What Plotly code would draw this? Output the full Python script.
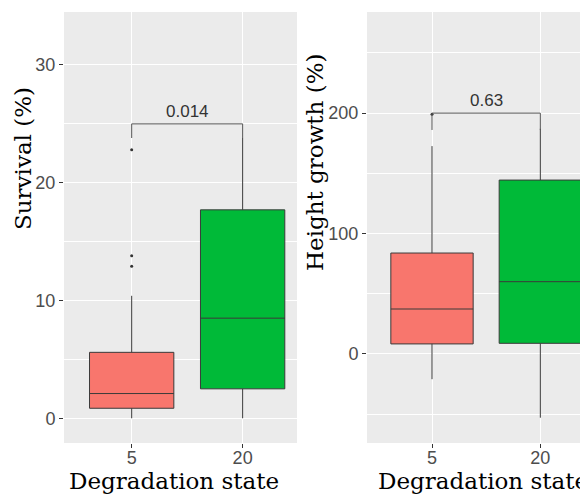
import plotly.graph_objects as go

# ---------------- data ----------------
categories = ["5", "20"]

# Survival (%)
surv_q1 = [0.85, 2.5]
surv_median = [2.1, 8.5]
surv_q3 = [5.6, 17.7]
surv_low = [0.0, 0.0]
surv_high = [10.4, 23.8]
surv_outlier_x = ["5", "5", "5"]
surv_outlier_y = [12.9, 13.8, 22.8]
surv_bracket_y = 25.0
surv_bracket_tip = 23.8
surv_p = "0.014"

# Height growth (%)
hg_q1 = [8.3, 8.8]
hg_median = [37.3, 60.0]
hg_q3 = [83.8, 144.4]
hg_low = [-21.0, -53.0]
hg_high = [172.6, 187.0]
hg_outlier_x = ["5"]
hg_outlier_y = [199.0]
hg_bracket_y = 200.0
hg_bracket_tip = 186.0
hg_p = "0.63"

colors = ["#F8766D", "#00BA38"]

# ---------------- figure ----------------
OFF = 8  # page body margin
W, H = 588 - OFF, 497 - OFF


def px(x):
    return (x - OFF) / W


def py(y):
    return (H - (y - OFF)) / H


fig = go.Figure()


def add_panel(xa, ya, q1, med, q3, lo, hi, ox, oy, by, bt, p):
    for i, c in enumerate(categories):
        fig.add_trace(go.Box(
            x=[c], q1=[q1[i]], median=[med[i]], q3=[q3[i]],
            lowerfence=[lo[i]], upperfence=[hi[i]],
            fillcolor=colors[i], line=dict(color="#3a3a3a", width=1),
            whiskerwidth=0, width=0.76, boxpoints=False,
            xaxis=xa, yaxis=ya, showlegend=False, hoverinfo="skip"))
    fig.add_trace(go.Scatter(
        x=ox, y=oy, mode="markers",
        marker=dict(color="#333333", size=3),
        xaxis=xa, yaxis=ya, showlegend=False, hoverinfo="skip"))
    fig.add_trace(go.Scatter(
        x=[categories[0], categories[0], categories[1], categories[1]],
        y=[bt, by, by, bt], mode="lines",
        line=dict(color="#555555", width=1),
        xaxis=xa, yaxis=ya, showlegend=False, hoverinfo="skip"))
    fig.add_annotation(
        x=0.5, y=by, xref=xa, yref=ya, text=p, showarrow=False,
        xanchor="center", yanchor="bottom", yshift=1,
        font=dict(family="Liberation Sans, Arial", size=17, color="#333333"))


add_panel("x", "y", surv_q1, surv_median, surv_q3, surv_low, surv_high,
          surv_outlier_x, surv_outlier_y, surv_bracket_y, surv_bracket_tip, surv_p)
add_panel("x2", "y2", hg_q1, hg_median, hg_q3, hg_low, hg_high,
          hg_outlier_x, hg_outlier_y, hg_bracket_y, hg_bracket_tip, hg_p)

tickfont = dict(family="Liberation Sans, Arial", size=18, color="#4d4d4d")
ydom = [py(443), py(12)]

common_x = dict(type="category", categoryorder="array", categoryarray=categories,
                showgrid=True, gridcolor="white", gridwidth=1.2, zeroline=False,
                ticks="outside", ticklen=4, tickcolor="#333333", tickfont=tickfont,
                ticklabelstandoff=-6, showline=False)
common_y = dict(showgrid=True, gridcolor="white", gridwidth=1.2, zeroline=False,
                ticks="outside", ticklen=4, tickcolor="#333333", tickfont=tickfont,
                showline=False, domain=ydom)

fig.update_layout(
    width=W, height=H, margin=dict(l=0, r=0, t=0, b=0),
    paper_bgcolor="white", plot_bgcolor="#EBEBEB",
    xaxis=dict(common_x, domain=[px(64), px(297)], range=[-0.61, 1.49], anchor="y"),
    yaxis=dict(common_y, range=[-2.1, 34.5], dtick=10, tick0=0, anchor="x",
               minor=dict(dtick=5, tick0=0, showgrid=True, gridcolor="white", gridwidth=0.6)),
    xaxis2=dict(common_x, domain=[px(367), 1.0], range=[-0.6, 1.44], anchor="y2"),
    yaxis2=dict(common_y, range=[-74, 284], dtick=100, tick0=0, anchor="x2",
                minor=dict(dtick=50, tick0=0, showgrid=True, gridcolor="white", gridwidth=0.6)),
)

titlefont = dict(family="DejaVu Serif", size=23, color="black")
for xc, yc, txt, ang in [
    ((72 + 275) / 2, 481, "Degradation state", 0),
    ((380 + 586) / 2, 481, "Degradation state", 0),
    (23, 159, "Survival (%)", -90),
    (315, 162, "Height growth (%)", -90),
]:
    fig.add_annotation(text=txt, x=px(xc), y=py(yc), xref="paper", yref="paper",
                       xanchor="center", yanchor="middle", textangle=ang,
                       showarrow=False, font=titlefont)

fig.write_html("out.html")
